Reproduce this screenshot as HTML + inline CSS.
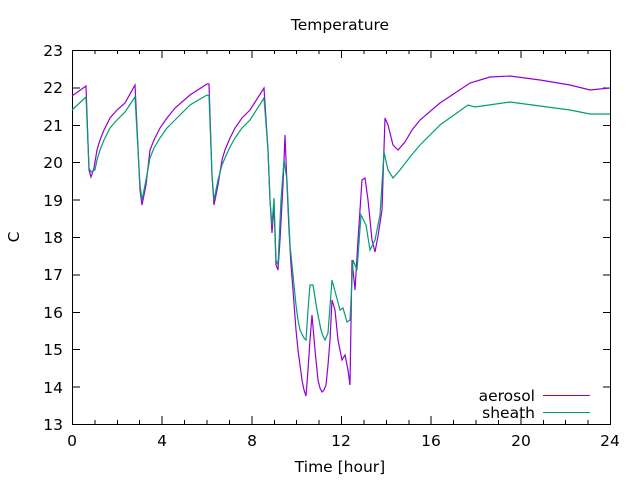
<!DOCTYPE html>
<html><head><meta charset="utf-8"><style>body{margin:0;background:#fff}svg{display:block}text{font-family:"DejaVu Sans","Liberation Sans",sans-serif;font-size:15.5px;fill:#000}</style></head><body>
<svg width="640" height="480" viewBox="0 0 640 480" xmlns="http://www.w3.org/2000/svg">
<g stroke="#000" stroke-width="1" fill="none" shape-rendering="crispEdges">
<rect x="72.5" y="50.5" width="538" height="374"/>
<path d="M72 50.5h8M72 87.9h8M72 125.3h8M72 162.7h8M72 200.1h8M72 237.5h8M72 274.9h8M72 312.3h8M72 349.7h8M72 387.1h8M603 50.5h8M603 87.9h8M603 125.3h8M603 162.7h8M603 200.1h8M603 237.5h8M603 274.9h8M603 312.3h8M603 349.7h8M603 387.1h8"/>
<path d="M162.2 424v-8M251.8 424v-8M341.5 424v-8M431.2 424v-8M520.8 424v-8M162.2 50v8M251.8 50v8M341.5 50v8M431.2 50v8M520.8 50v8"/>
<path d="M94.9 424v-4M117.3 424v-4M139.7 424v-4M184.6 424v-4M207 424v-4M229.4 424v-4M274.3 424v-4M296.7 424v-4M319.1 424v-4M363.9 424v-4M386.4 424v-4M408.8 424v-4M453.6 424v-4M476 424v-4M498.4 424v-4M543.3 424v-4M565.7 424v-4M588.1 424v-4M94.9 50v4M117.3 50v4M139.7 50v4M184.6 50v4M207 50v4M229.4 50v4M274.3 50v4M296.7 50v4M319.1 50v4M363.9 50v4M386.4 50v4M408.8 50v4M453.6 50v4M476 50v4M498.4 50v4M543.3 50v4M565.7 50v4M588.1 50v4"/>
</g>
<g text-anchor="end">
<text x="63" y="56">23</text><text x="63" y="93">22</text><text x="63" y="131">21</text><text x="63" y="168">20</text><text x="63" y="206">19</text><text x="63" y="243">18</text><text x="63" y="280">17</text><text x="63" y="318">16</text><text x="63" y="355">15</text><text x="63" y="393">14</text><text x="63" y="430">13</text>
</g>
<g text-anchor="middle">
<text x="72" y="446">0</text><text x="162" y="446">4</text><text x="252" y="446">8</text><text x="341" y="446">12</text><text x="431" y="446">16</text><text x="521" y="446">20</text><text x="610" y="446">24</text>
<text x="340" y="472">Time [hour]</text>
<text x="340" y="30">Temperature</text>
<text x="19" y="237" transform="rotate(-90 19 237)">C</text>
</g>
<text x="535" y="401" text-anchor="end">aerosol</text>
<text x="535" y="418" text-anchor="end">sheath</text>
<path d="M543 395.5h47" stroke="#9400d3"/>
<path d="M543 412.5h47" stroke="#009e73"/>
<polyline fill="none" stroke="#9400d3" stroke-width="1.2" points="72,96 86,86 89,170 91,177 94,168 97,150 100,140 104,130 110,118 117,110 125,103 135,85 140,190 142,205 146,185 150,150 154,140 160,128 167,118 175,108 190,95 207,84 209,84 212,175 214,205 218,185 222,160 225,150 230,138 235,128 242,118 250,110 264,88 268,150 270,200 272,233 274,205 276,265 278,270 280,240 283,185 285,135 287,185 289,230 291,265 293,290 296,330 298,350 300,365 302,380 304,390 306,396 308,370 310,340 312,315 315,350 318,380 320,388 322,392 324,390 326,385 328,365 330,340 332,300 335,310 338,340 342,360 345,355 348,370 350,385 352,260 355,290 358,240 362,180 365,178 368,200 372,240 375,252 378,236 382,210 385,118 388,125 393,145 398,150 405,142 412,130 420,120 440,103 470,83 490,77 510,76 540,80 570,85 590,90 610,88"/>
<polyline fill="none" stroke="#009e73" stroke-width="1.2" points="72,110 86,97 89,168 91,172 95,170 97,160 100,150 104,140 110,128 117,120 125,112 135,97 140,185 142,200 146,180 150,158 154,148 160,138 167,128 175,120 190,105 207,95 209,96 212,175 214,200 218,180 222,165 225,158 230,147 235,138 242,128 250,120 264,98 268,150 270,200 272,225 274,198 276,260 278,265 281,200 284,160 287,180 290,245 293,275 296,305 298,320 300,330 304,338 306,340 308,310 310,285 313,285 317,310 321,330 323,336 325,340 328,333 332,280 336,295 340,310 343,308 347,322 350,320 353,260 357,270 361,215 366,225 370,250 375,240 380,215 384,152 388,170 393,178 400,170 410,157 420,145 440,125 468,105 475,107 510,102 540,106 570,110 590,114 610,114"/>
</svg>
</body></html>
